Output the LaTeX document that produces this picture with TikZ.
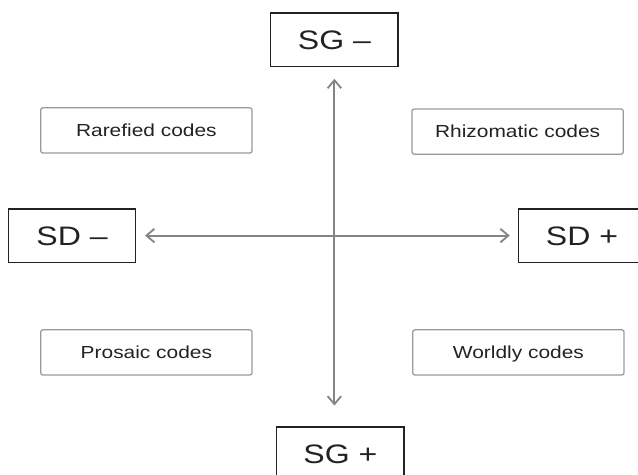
\documentclass[tikz,border=0pt]{standalone}
\usepackage{fontspec}
\setmainfont[FakeStretch=1.2]{Liberation Sans}
\usetikzlibrary{arrows.meta}
\definecolor{axisGray}{HTML}{858585}
\definecolor{boxGray}{HTML}{9A9A9A}
\definecolor{inkDark}{HTML}{222222}
\begin{document}
\begin{tikzpicture}
        [pole/.style={rectangle,draw=inkDark,line width=0.9pt,minimum width=3.18cm,minimum height=1.33cm,text height=13.6pt,text depth=0pt,text=inkDark,font=\fontsize{19}{22}\selectfont},
        code/.style={rectangle,draw=boxGray,line width=0.9pt,rounded corners=1.5pt,minimum width=5.28cm,minimum height=1.13cm,text height=8.9pt,text depth=0pt,text=inkDark,font=\fontsize{12.4}{14}\selectfont},
        axis/.style={draw=axisGray,line width=1.3pt,{Straight Barb[length=0.2cm,width=0.34cm]}-{Straight Barb[length=0.2cm,width=0.34cm]}}]
        \useasboundingbox (0,0) rectangle (15.95,-11.875);
        \node[pole] (SGm) at (8.36,-0.99) {SG –};
        \node[pole] (SGp) at (8.51,-11.34) {SG +};
        \node[pole] (SDm) at (1.8,-5.89) {SD –};
        \node[pole] (SDp) at (14.55,-5.89) {SD +};
        
        \node[code] (rare) at (3.66,-3.26) {Rarefied codes};
        \node[code] (rhizo) at (12.94,-3.29) {Rhizomatic codes};
        \node[code] (prosaic) at (3.66,-8.81) {Prosaic codes};
        \node[code] (worldly) at (12.96,-8.81) {Worldly codes};
        
        \draw[axis, shorten <=0.3cm, shorten >=0.52cm] (SGm.south) -- (SGm.south |- SGp.north);
        \draw[axis, shorten <=0.22cm, shorten >=0.2cm] (SDm.east) -- (SDp.west);
    
    \end{tikzpicture}
\end{document}
